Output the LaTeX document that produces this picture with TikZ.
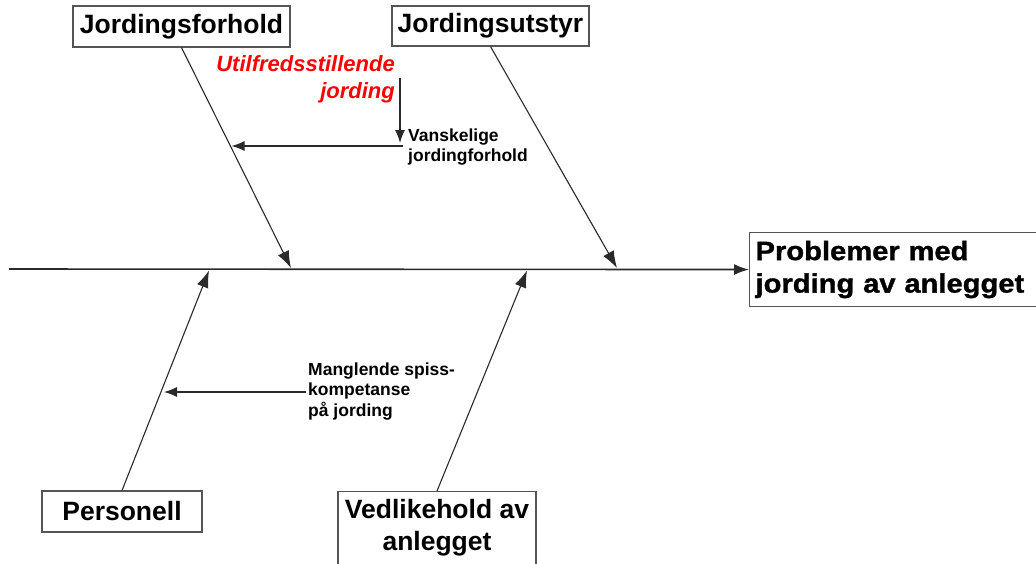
\documentclass[tikz,border=0pt]{standalone}
\usepackage{fontspec}
\setmainfont{Liberation Sans}
\newfontfamily\heavyfont[FakeStretch=1.1,FakeBold=1.2]{Liberation Sans}
\usetikzlibrary{arrows.meta}
\definecolor{inkgray}{HTML}{2A2A2A}
\definecolor{framegray}{HTML}{555555}
\definecolor{alertred}{HTML}{FF0000}
\begin{document}
\begin{tikzpicture}[x=1pt,y=-1pt,
  spine/.style={draw=inkgray,line width=1.6pt,-{Latex[length=15pt,width=11pt]}},
  bone/.style={draw=inkgray,line width=1.1pt,-{Latex[length=17pt,width=12pt]}},
  twig/.style={draw=inkgray,line width=1.2pt,-{Latex[length=13pt,width=10pt]}},
  causebox/.style={draw=framegray,line width=1.1pt,fill=white,inner sep=0pt,
    font=\bfseries\fontsize{26.5}{32}\selectfont,align=center},
  boxtext/.style={inner sep=0pt,font=\bfseries\fontsize{26.5}{32}\selectfont,align=center},
  note/.style={inner sep=0pt,anchor=north west,align=left,
    font=\bfseries\fontsize{17.5}{20.5}\selectfont,text=black}]
\clip (0,0) rectangle (1036,563);
\fill[white] (0,0) rectangle (1036,563);

% effect box
\node[draw=framegray,line width=1.1pt,fill=white,anchor=north west,
  minimum height=74,text width=290,inner xsep=6pt,inner ysep=0pt,align=left,
  font=\heavyfont\bfseries\fontsize{26.5}{32.5}\selectfont]
  (effect) at (749,232) {Problemer med\\jording av anlegget};

% cause boxes
\node[causebox,minimum width=217,minimum height=41] (jf) at (181.5,26.5) {Jordingsforhold};
\node[causebox,minimum width=197,minimum height=40] (ju) at (490.5,26) {Jordingsutstyr};
\node[causebox,minimum width=160,minimum height=41] (pe) at (122,511.5) {Personell};
\node[causebox,anchor=north,minimum width=198,minimum height=90] (ve) at (437,491) {};
\node[boxtext,anchor=north] (vetext) at ([yshift=-8pt]ve.north) {Vedlikehold av\\anlegget};

% spine
\coordinate (tail) at (9,269);
\draw[spine] (tail) -- (effect.west);

% bones
\coordinate (jfhead) at (291,268);
\coordinate (juhead) at (617,268);
\coordinate (pehead) at (209,270.5);
\coordinate (vehead) at (527,270.5);
\draw[bone] (jf.south) -- (jfhead);
\draw[bone] (ju.south) -- (juhead);
\draw[bone] (pe.north) -- (pehead);
\draw[bone] (ve.north) -- (vehead);

% sub-causes
\node[inner sep=0pt,anchor=north east,align=right,text=alertred,
  font=\bfseries\itshape\fontsize{22}{26.6}\selectfont]
  (util) at (395,55.5) {Utilfredsstillende\\jording};
\node[note] (vansk) at (408,128.2) {Vanskelige\\jordingforhold};
\node[note] (mangl) at (308,362.2) {Manglende spiss-\\kompetanse\\på jording};

\coordinate (utilfoot) at (400,78);
\coordinate (vanskhook) at (400,143);
\draw[twig] (utilfoot) -- (vanskhook);

\coordinate (vanskstart) at (403,146);
\coordinate (vanskend) at (231.5,146);
\draw[twig] (vanskstart) -- (vanskend);

\coordinate (manglstart) at (306,392);
\coordinate (manglend) at (164,392);
\draw[twig] (manglstart) -- (manglend);
\end{tikzpicture}
\end{document}
